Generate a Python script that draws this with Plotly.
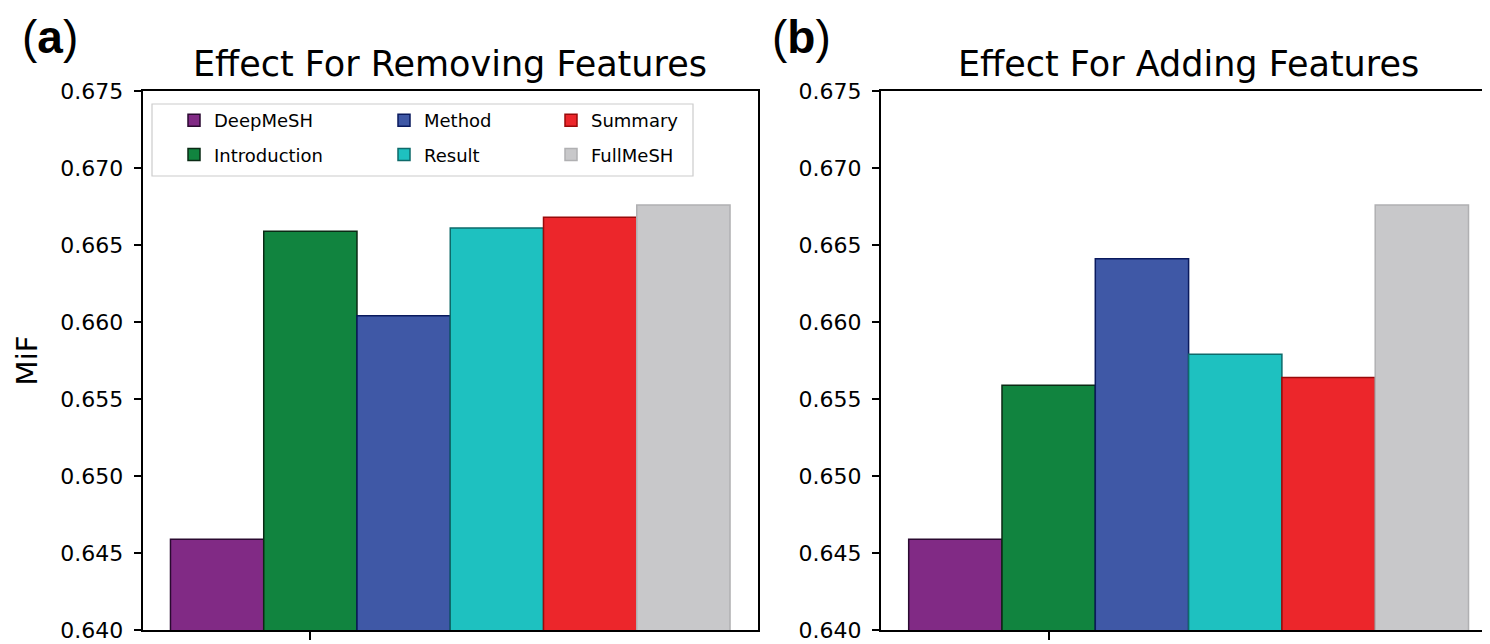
import plotly.graph_objects as go

# ---- data ----
features = ["DeepMeSH", "Introduction", "Method", "Result", "Summary", "FullMeSH"]
removing_mif = [0.6459, 0.6659, 0.6604, 0.6661, 0.6668, 0.6676]
adding_mif = [0.6459, 0.6559, 0.6641, 0.6579, 0.6564, 0.6676]
y_ticks = [0.640, 0.645, 0.650, 0.655, 0.660, 0.665, 0.670, 0.675]
panel_titles = ["Effect For Removing Features", "Effect For Adding Features"]
panel_tags = ["a", "b"]

# ---- styles ----
fill_colors = ["#812A85", "#11843F", "#3F58A6", "#1EC1C0", "#EC262B", "#C8C8CA"]
edge_colors = ["#2A0A30", "#0A2A14", "#0A1A5E", "#0E6A6A", "#9A0A0A", "#B0B0B2"]
legend_cols = ["legend", "legend", "legend2", "legend2", "legend3", "legend3"]

OFF = 8  # page body margin
W, H = 1490 - OFF, 644 - OFF
def px_x(p):
    return (p - OFF) / W
def px_y(p):
    return 1 - (p - OFF) / H

fig = go.Figure()

for panel, values in enumerate([removing_mif, adding_mif]):
    xa = "x" if panel == 0 else "x2"
    ya = "y" if panel == 0 else "y2"
    for i, (name, v) in enumerate(zip(features, values)):
        fig.add_trace(go.Bar(
            x=[i - 1], y=[v], width=1,
            name=name,
            marker=dict(color=fill_colors[i], line=dict(color=edge_colors[i], width=1.5)),
            xaxis=xa, yaxis=ya,
            legend=legend_cols[i],
            legendgroup=name,
            showlegend=(panel == 0),
        ))

axis_font = dict(family="DejaVu Sans", size=22, color="black")
y_top, y_bot = px_y(91), px_y(630)

common_x = dict(
    tickmode="array", tickvals=[0], ticktext=[""], ticks="outside", ticklen=8,
    tickwidth=1.5, tickcolor="black", showline=True, linecolor="black", linewidth=1.5,
    mirror=True, showgrid=False, zeroline=False, automargin=False,
)
common_y = dict(
    range=[0.640, 0.675], tickmode="array", tickvals=y_ticks,
    ticktext=[f"{t:.3f}" for t in y_ticks], ticks="outside", ticklen=7, tickwidth=1.5,
    tickcolor="black", showline=True, linecolor="black", linewidth=1.5,
    showgrid=False, zeroline=False, tickfont=axis_font, automargin=False,
    ticklabelstandoff=6,
)

fig.update_layout(
    width=W, height=H,
    margin=dict(l=0, r=0, t=0, b=0),
    paper_bgcolor="white", plot_bgcolor="white",
    barmode="overlay",
    font=dict(family="DejaVu Sans", color="black"),
    xaxis=dict(domain=[px_x(142.5), px_x(758)], range=[-1.8, 4.8], **common_x),
    yaxis=dict(domain=[y_bot, y_top], mirror=True,
               title=dict(text="MiF", font=dict(family="DejaVu Sans", size=29), standoff=14),
               **common_y),
    xaxis2=dict(domain=[px_x(880.7), 1.0], range=[-1.8, 4.8 - 6.5 / 93.3], anchor="y2", **common_x),
    yaxis2=dict(domain=[y_bot, y_top], anchor="x2", mirror=False, **common_y),
)

leg_common = dict(
    orientation="v", xanchor="left", yanchor="top", bgcolor="rgba(0,0,0,0)",
    font=dict(family="DejaVu Sans", size=18, color="black"), tracegroupgap=8,
    itemclick="toggle",
)
fig.update_layout(
    legend=dict(x=px_x(174), y=px_y(102), **leg_common),
    legend2=dict(x=px_x(384), y=px_y(102), **leg_common),
    legend3=dict(x=px_x(551), y=px_y(102), **leg_common),
)

# legend frame
fig.add_shape(type="rect", xref="paper", yref="paper",
              x0=px_x(152), x1=px_x(693), y0=px_y(176), y1=px_y(104),
              line=dict(color="#CCCCCC", width=1.2), fillcolor="rgba(255,255,255,0)", layer="above")

# panel titles and tags
title_centers = [(142.5 + 758) / 2, (880.7 + 1496) / 2]
tag_centers = [50, 802]
for k in range(2):
    fig.add_annotation(text=panel_titles[k], xref="paper", yref="paper",
                       x=px_x(title_centers[k]), y=px_y(64), xanchor="center", yanchor="middle",
                       showarrow=False, font=dict(family="DejaVu Sans", size=35, color="black"))
    fig.add_annotation(text=f"(<b>{panel_tags[k]}</b>)", xref="paper", yref="paper",
                       x=px_x(tag_centers[k]), y=px_y(37), xanchor="center", yanchor="middle",
                       showarrow=False, font=dict(family="Liberation Sans", size=46, color="black"))

fig.write_html("out.html")
